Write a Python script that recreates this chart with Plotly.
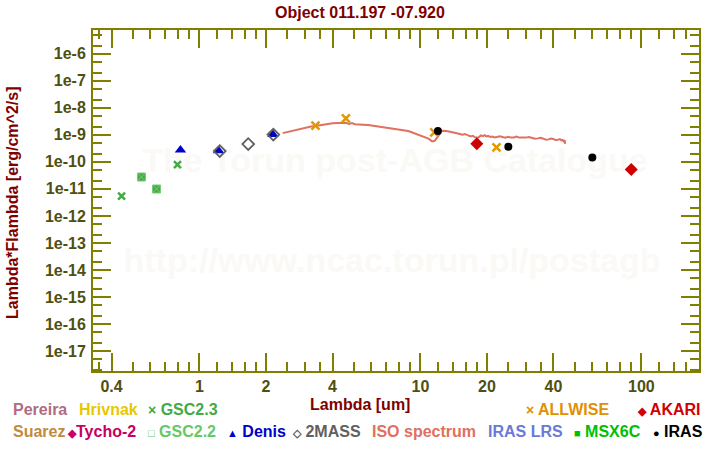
import plotly.graph_objects as go

# ---------------- data ----------------
gsc23_wl = [0.444, 0.795]
gsc23_f = [5.4e-12, 7.9e-11]

gsc22_wl = [0.546, 0.639]
gsc22_f = [2.75e-11, 9.9e-12]

denis_wl = [0.82, 1.22, 2.15]
denis_f = [2.74e-10, 2.6e-10, 1.02e-9]

mass2_wl = [1.235, 1.662, 2.159]
mass2_f = [2.5e-10, 4.57e-10, 1.02e-9]

allwise_wl = [3.35, 4.6, 11.56, 22.1]
allwise_f = [2.19e-9, 4.07e-9, 1.24e-9, 3.44e-10]

akari_wl = [18.0, 90.0]
akari_f = [4.72e-10, 5.2e-11]

iras_wl = [12.0, 25.0, 60.0]
iras_f = [1.38e-9, 3.66e-10, 1.44e-10]

iso_wl = [2.38, 2.5, 2.65, 2.8, 3.0, 3.2, 3.4, 3.6, 3.8, 4.0, 4.3, 4.6, 4.75, 4.9,
          5.05, 5.2, 5.5, 5.8, 6.2, 6.6, 7.0, 7.5, 8.0, 8.5, 8.8, 9.0, 9.3, 9.5, 9.8,
          10.0, 10.3, 10.5, 10.8, 11.0, 11.3, 11.6, 11.9, 12.1, 12.4, 12.8, 13.3,
          13.7, 14.0, 14.4, 14.8, 15.2, 15.5, 15.9, 16.3, 16.7, 17.0, 17.3, 17.6,
          17.9, 18.2, 18.5, 18.8, 19.2, 19.5, 19.9, 20.3, 20.8, 21.2, 21.7, 22.3,
          22.9, 23.5, 24.2, 25.0, 25.7, 26.5, 27.2, 28.0, 29.0, 30.0, 31.0, 32.0,
          33.0, 34.0, 35.0, 36.0, 37.0, 38.0, 39.0, 40.0, 41.0, 42.0, 42.8, 43.5,
          44.0, 44.5, 45.0, 45.2]
iso_f = [1.16e-9, 1.28e-9, 1.45e-9, 1.62e-9, 1.80e-9, 2.02e-9, 2.15e-9, 2.35e-9,
         2.50e-9, 2.68e-9, 2.75e-9, 2.80e-9, 2.55e-9, 2.72e-9, 2.48e-9, 2.50e-9,
         2.38e-9, 2.30e-9, 2.12e-9, 1.95e-9, 1.85e-9, 1.72e-9, 1.62e-9, 1.48e-9,
         1.38e-9, 1.30e-9, 1.18e-9, 1.15e-9, 1.05e-9, 0.98e-9, 0.90e-9, 0.85e-9,
         0.74e-9, 0.68e-9, 0.57e-9, 0.60e-9, 0.75e-9, 0.95e-9, 1.40e-9, 1.42e-9,
         1.35e-9, 1.30e-9, 1.28e-9, 1.18e-9, 1.12e-9, 1.06e-9, 1.02e-9, 1.08e-9,
         0.95e-9, 0.90e-9, 0.88e-9, 0.92e-9, 0.82e-9, 0.78e-9, 0.78e-9, 0.86e-9,
         0.95e-9, 0.90e-9, 0.97e-9, 0.88e-9, 0.90e-9, 0.84e-9, 0.86e-9, 0.80e-9,
         0.84e-9, 0.88e-9, 0.83e-9, 0.78e-9, 0.84e-9, 0.79e-9, 0.80e-9, 0.86e-9,
         0.79e-9, 0.77e-9, 0.79e-9, 0.83e-9, 0.76e-9, 0.72e-9, 0.74e-9, 0.78e-9,
         0.72e-9, 0.66e-9, 0.68e-9, 0.73e-9, 0.70e-9, 0.64e-9, 0.66e-9, 0.70e-9,
         0.62e-9, 0.65e-9, 0.58e-9, 0.63e-9, 0.46e-9]

x_major = [0.4, 1, 2, 4, 10, 20, 40, 100]
x_major_text = ["0.4", "1", "2", "4", "10", "20", "40", "100"]
x_minor = [0.35, 0.5, 0.6, 0.7, 0.8, 0.9, 1.2, 1.4, 1.6, 1.8, 2.5, 3, 3.5, 5, 6, 7, 8, 9,
           12, 14, 16, 18, 25, 30, 35, 50, 60, 70, 80, 90, 120, 140, 160]
y_exps = list(range(-6, -18, -1))
y_major = [10.0 ** e for e in y_exps]
y_major_text = ["1e%d" % e for e in y_exps]
y_minor = []
for e in range(-6, -19, -1):
    y_minor += [2 * 10.0 ** e, 5 * 10.0 ** e]

watermarks = ["The Torun post-AGB Catalogue", "http://www.ncac.torun.pl/postagb"]

# ---------------- figure ----------------
W, H = 720, 450
L, R, T, B = 93, 21, 30, 79
XR = [-0.482, 2.261]
YR = [-17.74, -5.12]
FONT = "Liberation Sans, Arial, sans-serif"
OLIVE = "#808000"
TICKC = "#4f4f12"
DARKRED = "#800000"


def px(x):
    return (x - L) / (W - L - R)


def py(y):
    return 1 - (y - T) / (H - T - B)


def pix_to_data(x, y):
    fx = px(x)
    fy = py(y)
    return 10 ** (XR[0] + fx * (XR[1] - XR[0])), 10 ** (YR[0] + fy * (YR[1] - YR[0]))


fig = go.Figure()

# watermark behind the data
wm_pos = [pix_to_data(395, 163), pix_to_data(392, 263)]
fig.add_trace(go.Scatter(x=[p[0] for p in wm_pos], y=[p[1] for p in wm_pos],
                         mode="text", text=["<b>%s</b>" % t for t in watermarks],
                         textposition="middle center", hoverinfo="skip",
                         textfont=dict(family=FONT, size=34, color="#fbf9f6")))

fig.add_trace(go.Scatter(x=iso_wl, y=iso_f, mode="lines",
                         line=dict(color="#e07060", width=2), name="ISO spectrum"))
fig.add_trace(go.Scatter(x=gsc22_wl, y=gsc22_f, mode="markers", name="GSC2.2",
                         marker=dict(symbol="square-x", size=8, color="#44aa44",
                                     line=dict(color="#77cc77", width=1))))
fig.add_trace(go.Scatter(x=gsc23_wl, y=gsc23_f, mode="markers", name="GSC2.3",
                         marker=dict(symbol="x-thin", size=7, color="#44aa44",
                                     line=dict(color="#44aa44", width=2.5))))
fig.add_trace(go.Scatter(x=denis_wl, y=denis_f, mode="markers", name="Denis",
                         marker=dict(symbol="triangle-up", size=10, color="#0000c8",
                                     line=dict(width=0))))
fig.add_trace(go.Scatter(x=mass2_wl, y=mass2_f, mode="markers", name="2MASS",
                         marker=dict(symbol="diamond-open", size=9, color="#606060",
                                     line=dict(color="#606060", width=1.8))))
fig.add_trace(go.Scatter(x=allwise_wl, y=allwise_f, mode="markers", name="ALLWISE",
                         marker=dict(symbol="x-thin", size=8, color="#e09a00",
                                     line=dict(color="#e09a00", width=2.5))))
fig.add_trace(go.Scatter(x=iras_wl, y=iras_f, mode="markers", name="IRAS",
                         marker=dict(symbol="circle", size=8, color="#000000",
                                     line=dict(width=0))))
fig.add_trace(go.Scatter(x=akari_wl, y=akari_f, mode="markers", name="AKARI",
                         marker=dict(symbol="diamond", size=10, color="#d00000",
                                     line=dict(width=0))))

axis_common = dict(
    showline=True, linecolor=OLIVE, linewidth=2, mirror="allticks",
    ticks="inside", ticklen=18, tickwidth=2, tickcolor=OLIVE,
    showgrid=False, zeroline=False,
    tickfont=dict(family=FONT, size=16, color=TICKC),
    tickmode="array",
)

fig.update_xaxes(type="log", range=XR,
                 tickvals=x_major, ticktext=["<b>%s</b>" % t for t in x_major_text],
                 minor=dict(tickmode="array", tickvals=x_minor, ticks="inside",
                            ticklen=9, tickwidth=2, tickcolor=OLIVE, showgrid=False),
                 **axis_common)
fig.update_yaxes(type="log", range=YR,
                 tickvals=y_major, ticktext=["<b>%s</b>" % t for t in y_major_text],
                 minor=dict(tickmode="array", tickvals=y_minor, ticks="inside",
                            ticklen=9, tickwidth=2, tickcolor=OLIVE, showgrid=False),
                 ticklabelstandoff=2,
                 **axis_common)

ann = []


def text_ann(x, y, txt, size=16, color="#000", xanchor="left", angle=0):
    ann.append(dict(x=px(x), y=py(y), xref="paper", yref="paper",
                    text="<b>%s</b>" % txt, showarrow=False,
                    xanchor=xanchor, yanchor="middle", textangle=angle,
                    font=dict(family=FONT, size=size, color=color)))


# titles
text_ann(360, 12, "Object 011.197 -07.920", color=DARKRED, xanchor="center")
text_ann(360, 405, "Lambda [um]", color=DARKRED, xanchor="center")
text_ann(12, 203, "Lambda*Flambda [erg/cm^2/s]", color=DARKRED, xanchor="center", angle=-90)


def sym(s, size=11):
    return "<span style='font-size:%dpx'>%s</span>" % (size, s)


# legend rows
r1, r2 = 410, 431
text_ann(11, r1, "Pereira", color="#b06c80")
text_ann(77, r1, "Hrivnak", color="#e6c800")
text_ann(146, r1, sym("×", 14) + " GSC2.3", color="#44aa44")
text_ann(524, r1, sym("×", 14) + " ALLWISE", color="#e09000")
text_ann(635, r1, sym("◆") + " AKARI", color="#d00000")

text_ann(11, r2, "Suarez", color="#c08a40")
text_ann(65, r2, sym("◆") + "Tycho-2", color="#c80060")
text_ann(146, r2, sym("□") + " GSC2.2", color="#66c866")
text_ann(225, r2, sym("▲") + " Denis", color="#0000cc")
text_ann(290, r2, sym("◇") + " 2MASS", color="#606060")
text_ann(370, r2, "ISO spectrum", color="#e07060")
text_ann(486, r2, "IRAS LRS", color="#6a78d8")
text_ann(572, r2, sym("■") + " MSX6C", color="#00c000")
text_ann(651, r2, sym("●") + " IRAS", color="#000000")

fig.update_layout(
    width=W, height=H,
    margin=dict(l=L, r=R, t=T, b=B, pad=0),
    paper_bgcolor="white", plot_bgcolor="white",
    showlegend=False,
    annotations=ann,
    font=dict(family=FONT),
)

fig.write_html("out.html")
